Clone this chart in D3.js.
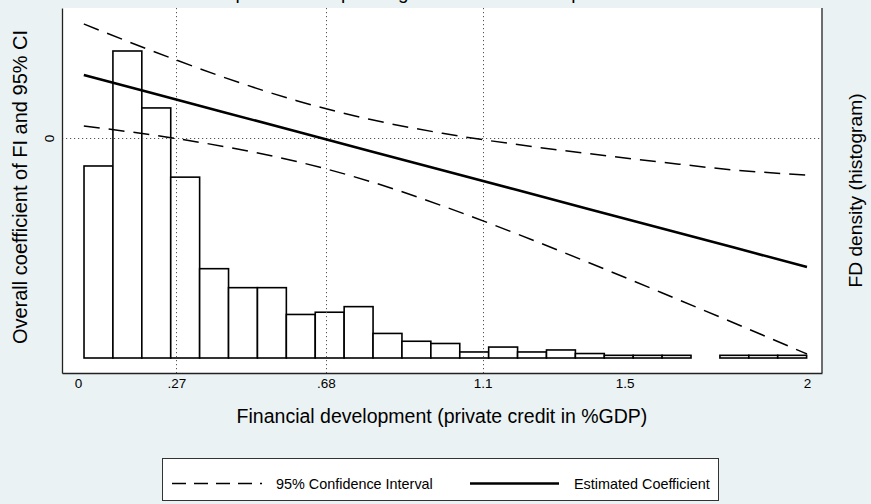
<!DOCTYPE html>
<html>
<head>
<meta charset="utf-8">
<script src="https://cdn.jsdelivr.net/npm/d3@7"></script>
<style>
  html, body { margin: 0; padding: 0; background: #eaf2f3; }
  svg { display: block; font-family: "Liberation Sans", Arial, Helvetica, sans-serif; }
</style>
</head>
<body>
<svg id="chart" width="871" height="504"></svg>
<script>
// ---- data -------------------------------------------------------------
// Histogram of financial development (private credit, share of GDP)
const binStart = 0.0165;
const binWidth = 0.0793;
const densities = [1.72, 2.75, 2.24, 1.62, 0.80, 0.63, 0.63, 0.39, 0.41, 0.46,
                   0.22, 0.15, 0.13, 0.054, 0.098, 0.054, 0.072, 0.040, 0.024, 0.024,
                   0.024, 0, 0.024, 0.024, 0.024];

// Overall coefficient of financial inclusion along financial development
const fdPoints = [0.016, 0.2, 0.4, 0.6, 0.8, 1.0, 1.2, 1.4, 1.6, 1.8, 2.0];
const estimate = [0.63, 0.452, 0.258, 0.065, -0.129, -0.322, -0.516, -0.709, -0.903, -1.096, -1.29];
const ciUpper  = [1.14, 0.876, 0.607, 0.373, 0.187, 0.047, -0.063, -0.156, -0.241, -0.32, -0.37];
const ciLower  = [0.12, 0.032, -0.085, -0.235, -0.433, -0.679, -0.953, -1.244, -1.545, -1.85, -2.16];

// x-axis ticks: zero crossings of the CI bounds and of the estimate
const xTickValues = [0, 0.27, 0.68, 1.11, 1.5, 2];
const xTickLabels = ["0", ".27", ".68", "1.1", "1.5", "2"];
const xGridValues = [0.27, 0.68, 1.11];
const yTickValues = [0];
const yTickLabels = ["0"];

const titleText = "Overall impact of FI depending on financial development";
const xTitle = "Financial development (private credit in %GDP)";
const yTitle = "Overall coefficient of FI and 95% CI";
const y2Title = "FD density (histogram)";
const legendLabels = ["95% Confidence Interval", "Estimated Coefficient"];

// ---- layout -----------------------------------------------------------
const plot = { left: 62, right: 822, top: 8, bottom: 373 };
const svg = d3.select("#chart");

const x = d3.scaleLinear().domain([-0.0439, 2.0412]).range([plot.left, plot.right]);
const yCoef = d3.scaleLinear().domain([-2.35, 1.3]).range([plot.bottom, plot.top]);
const yDens = d3.scaleLinear().domain([0, 2.75]).range([358, 51]);

// background of the plot region
svg.append("rect")
  .attr("x", plot.left).attr("y", plot.top)
  .attr("width", plot.right - plot.left).attr("height", plot.bottom - plot.top)
  .attr("fill", "#ffffff");

// title (sits at the very top edge)
svg.append("text")
  .attr("x", (plot.left + plot.right) / 2 - 55).attr("y", -1)
  .attr("text-anchor", "middle")
  .attr("font-size", 19)
  .attr("fill", "#000")
  .text(titleText);

// histogram bars
const bins = densities.map((d, i) => ({ x0: binStart + i * binWidth, x1: binStart + (i + 1) * binWidth, d }))
  .filter(b => b.d > 0);
svg.append("g")
  .selectAll("rect")
  .data(bins)
  .join("rect")
  .attr("x", b => x(b.x0))
  .attr("y", b => yDens(b.d))
  .attr("width", b => x(b.x1) - x(b.x0))
  .attr("height", b => yDens(0) - yDens(b.d))
  .attr("fill", "#ffffff")
  .attr("stroke", "#000")
  .attr("stroke-width", 1.6);

// reference lines (dotted)
const grid = svg.append("g").attr("stroke", "#555").attr("stroke-width", 1)
  .attr("stroke-dasharray", "1.2,2.8");
grid.selectAll("line.v")
  .data(xGridValues)
  .join("line")
  .attr("class", "v")
  .attr("x1", d => Math.round(x(d)) + 0.5).attr("x2", d => Math.round(x(d)) + 0.5)
  .attr("y1", plot.top).attr("y2", plot.bottom);
grid.append("line")
  .attr("x1", plot.left).attr("x2", plot.right)
  .attr("y1", Math.round(yCoef(0)) + 0.5).attr("y2", Math.round(yCoef(0)) + 0.5);

// confidence bounds and estimate
const ciLine = (vals) => d3.line()
  .x((d, i) => x(fdPoints[i]))
  .y(d => yCoef(d))
  .curve(d3.curveMonotoneX)(vals);

svg.append("g")
  .selectAll("path")
  .data([ciUpper, ciLower])
  .join("path")
  .attr("d", ciLine)
  .attr("fill", "none")
  .attr("stroke", "#000")
  .attr("stroke-width", 1.5)
  .attr("stroke-dasharray", "16,9");

svg.append("path")
  .attr("d", d3.line().x((d, i) => x(fdPoints[i])).y(d => yCoef(d))(estimate))
  .attr("fill", "none")
  .attr("stroke", "#000")
  .attr("stroke-width", 2.6);

// axes
const xAxis = d3.axisBottom(x)
  .tickValues(xTickValues)
  .tickFormat((d, i) => xTickLabels[i])
  .tickSize(0)
  .tickPadding(5);
const gx = svg.append("g").attr("transform", `translate(0,${plot.bottom})`).call(xAxis);
gx.select(".domain").attr("stroke", "#222").attr("stroke-width", 1.3);
gx.selectAll("text").attr("font-size", 13.5).attr("fill", "#000")
  .attr("font-family", "Liberation Sans, Arial, sans-serif");

const yAxis = d3.axisLeft(yCoef)
  .tickValues(yTickValues)
  .tickFormat((d, i) => yTickLabels[i])
  .tickSize(0);
const gy = svg.append("g").attr("transform", `translate(${plot.left},0)`).call(yAxis);
gy.select(".domain").attr("stroke", "#222").attr("stroke-width", 1.3);
gy.selectAll("text")
  .attr("x", null).attr("dy", null)
  .attr("transform", "translate(-8,0) rotate(-90)")
  .attr("text-anchor", "middle")
  .attr("font-size", 13.5).attr("fill", "#000")
  .attr("font-family", "Liberation Sans, Arial, sans-serif");

// right axis (histogram density, no ticks)
svg.append("line")
  .attr("x1", plot.right).attr("x2", plot.right)
  .attr("y1", plot.top).attr("y2", plot.bottom)
  .attr("stroke", "#222").attr("stroke-width", 1.3);

// axis titles
svg.append("text")
  .attr("x", (plot.left + plot.right) / 2).attr("y", 423)
  .attr("text-anchor", "middle").attr("font-size", 19.5).attr("fill", "#000")
  .text(xTitle);

svg.append("text")
  .attr("transform", "translate(27,187) rotate(-90)")
  .attr("text-anchor", "middle").attr("font-size", 20).attr("fill", "#000")
  .text(yTitle);

svg.append("text")
  .attr("transform", `translate(862,${(plot.top + plot.bottom) / 2}) rotate(-90)`)
  .attr("text-anchor", "middle").attr("font-size", 19.2).attr("fill", "#000")
  .text(y2Title);

// legend
const legend = svg.append("g");
legend.append("rect")
  .attr("x", 162.5).attr("y", 458.5).attr("width", 556).attr("height", 42)
  .attr("fill", "#ffffff").attr("stroke", "#333").attr("stroke-width", 1);
const legendY = 483.5;
legend.append("line")
  .attr("x1", 172).attr("x2", 262).attr("y1", legendY).attr("y2", legendY)
  .attr("stroke", "#000").attr("stroke-width", 1.5).attr("stroke-dasharray", "14,8");
legend.append("line")
  .attr("x1", 470).attr("x2", 559).attr("y1", legendY).attr("y2", legendY)
  .attr("stroke", "#000").attr("stroke-width", 2.6);
legend.selectAll("text")
  .data(legendLabels)
  .join("text")
  .attr("x", (d, i) => i === 0 ? 276 : 574)
  .attr("y", legendY + 5)
  .attr("font-size", 14.4).attr("fill", "#000")
  .text(d => d);
</script>
</body>
</html>
